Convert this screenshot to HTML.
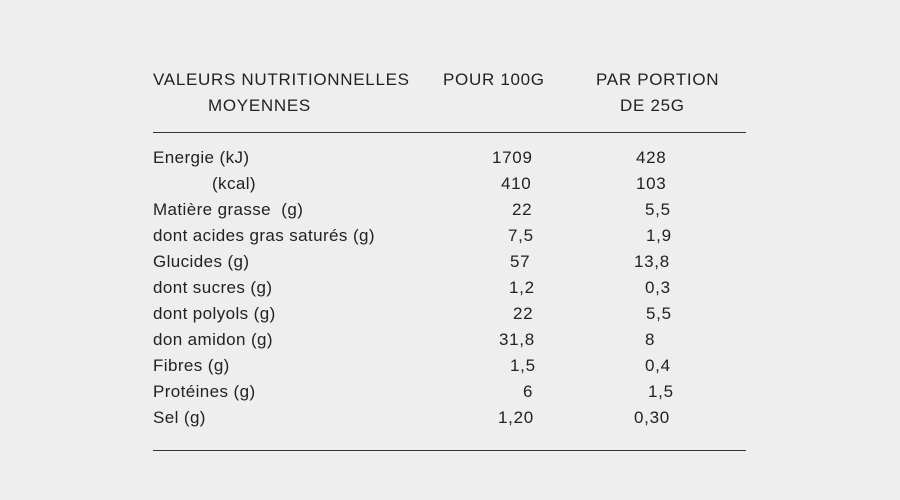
<!DOCTYPE html>
<html><head><meta charset="utf-8"><style>
body{margin:0;width:900px;height:500px;background:#eeeeee;position:relative;overflow:hidden;font-family:"Liberation Sans",sans-serif;font-size:17px;letter-spacing:0.7px;color:#222;}
.t{position:absolute;white-space:nowrap;line-height:20px;}
.n{letter-spacing:0.4px;}
.l{position:absolute;left:153px;width:593px;height:1px;background:#333;}
</style></head><body>
<div class="t" style="left:153px;top:70px">VALEURS NUTRITIONNELLES</div>
<div class="t" style="left:208px;top:96px">MOYENNES</div>
<div class="t" style="left:443px;top:70px">POUR 100G</div>
<div class="t" style="left:596px;top:70px">PAR PORTION</div>
<div class="t" style="left:620px;top:96px">DE 25G</div>
<div class="l" style="top:132px"></div>
<div class="l" style="top:450px"></div>

<div class="t n" style="left:153px;top:148px">Energie (kJ)</div>
<div class="t n" style="left:212px;top:174px">(kcal)</div>
<div class="t n" style="left:153px;top:200px">Matière grasse&nbsp; (g)</div>
<div class="t n" style="left:153px;top:226px">dont acides gras saturés (g)</div>
<div class="t n" style="left:153px;top:252px">Glucides (g)</div>
<div class="t n" style="left:153px;top:278px">dont sucres (g)</div>
<div class="t n" style="left:153px;top:304px">dont polyols (g)</div>
<div class="t n" style="left:153px;top:330px">don amidon (g)</div>
<div class="t n" style="left:153px;top:356px">Fibres (g)</div>
<div class="t n" style="left:153px;top:382px">Protéines (g)</div>
<div class="t n" style="left:153px;top:408px">Sel (g)</div>

<div class="t" style="left:492px;top:148px">1709</div>
<div class="t" style="left:501px;top:174px">410</div>
<div class="t" style="left:512px;top:200px">22</div>
<div class="t" style="left:508px;top:226px">7,5</div>
<div class="t" style="left:510px;top:252px">57</div>
<div class="t" style="left:509px;top:278px">1,2</div>
<div class="t" style="left:513px;top:304px">22</div>
<div class="t" style="left:499px;top:330px">31,8</div>
<div class="t" style="left:510px;top:356px">1,5</div>
<div class="t" style="left:523px;top:382px">6</div>
<div class="t" style="left:498px;top:408px">1,20</div>

<div class="t" style="left:636px;top:148px">428</div>
<div class="t" style="left:636px;top:174px">103</div>
<div class="t" style="left:645px;top:200px">5,5</div>
<div class="t" style="left:646px;top:226px">1,9</div>
<div class="t" style="left:634px;top:252px">13,8</div>
<div class="t" style="left:645px;top:278px">0,3</div>
<div class="t" style="left:646px;top:304px">5,5</div>
<div class="t" style="left:645px;top:330px">8</div>
<div class="t" style="left:645px;top:356px">0,4</div>
<div class="t" style="left:648px;top:382px">1,5</div>
<div class="t" style="left:634px;top:408px">0,30</div>
</body></html>
